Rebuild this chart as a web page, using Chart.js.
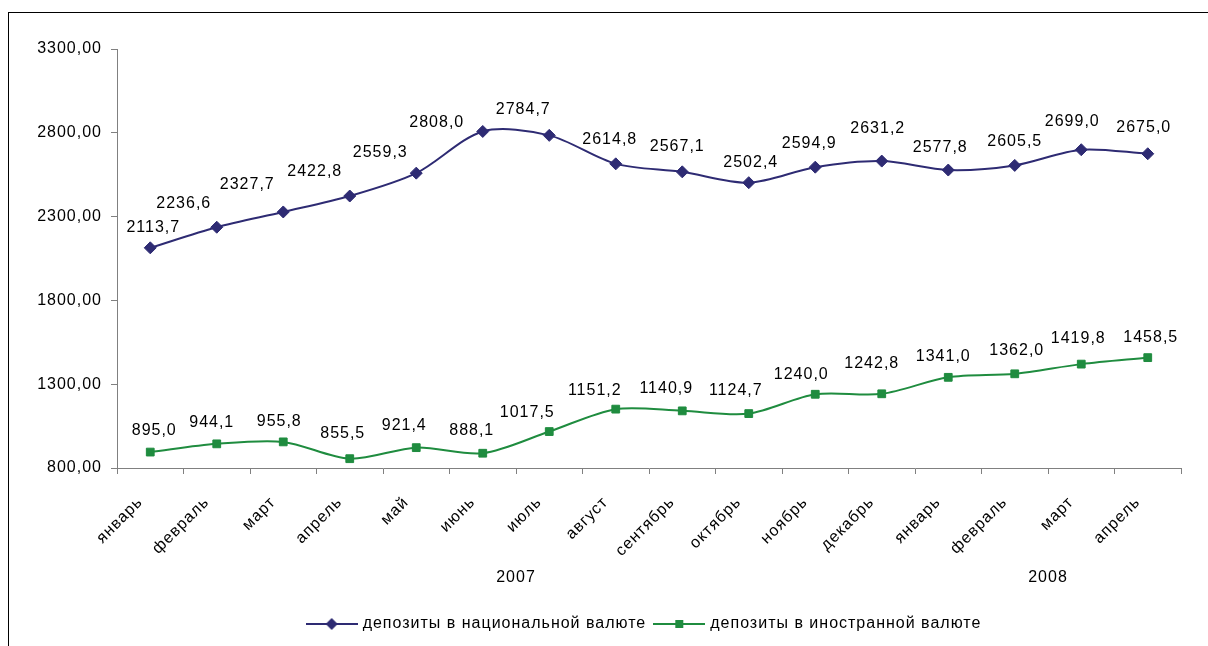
<!DOCTYPE html>
<html>
<head>
<meta charset="utf-8">
<script src="https://cdn.jsdelivr.net/npm/chart.js@4.4.1/dist/chart.umd.min.js"></script>
<style>
  html, body { margin: 0; padding: 0; background: #fff; overflow: hidden; }
  #frame { position: absolute; left: 8px; top: 12px; width: 1272px; height: 660px; border: 1px solid #000; }
  #chart { display: block; }
</style>
</head>
<body>
<div id="frame"><canvas id="chart" width="1272" height="660"></canvas></div>
<script>
// данные
const months = ["январь", "февраль", "март", "апрель", "май", "июнь", "июль", "август",
  "сентябрь", "октябрь", "ноябрь", "декабрь", "январь", "февраль", "март", "апрель"];
const years = ["2007", "2008"];
const yearFirst = [0, 12];
const yearLast = [11, 15];
const nationalValues = [2113.7, 2236.6, 2327.7, 2422.8, 2559.3, 2808.0, 2784.7, 2614.8,
  2567.1, 2502.4, 2594.9, 2631.2, 2577.8, 2605.5, 2699.0, 2675.0];
const foreignValues = [895.0, 944.1, 955.8, 855.5, 921.4, 888.1, 1017.5, 1151.2,
  1140.9, 1124.7, 1240.0, 1242.8, 1341.0, 1362.0, 1419.8, 1458.5];
const seriesNames = ["депозиты в национальной валюте", "депозиты в иностранной валюте"];

// сдвиги подписей значений (как в исходнике)
const nationalLabelDx = [3, -33, -36, -35, -36, -46, -26, -6, -5, 2, -6, -4, -8, 0, -9, -4];
const nationalLabelDy = [-20, -24, -27, -24, -21, -9, -26, -24, -25, -20, -24, -32, -22, -24, -28, -26];
const foreignLabelDx = [4, -5, -4, -7, -12, -11, -22, -21, -16, -13, -14, -10, -5, 2, -3, 3];
const foreignLabelDy = [-21, -21, -20, -25, -22, -23, -19, -19, -22, -23, -20, -30, -21, -23, -26, -20];

const navy = "#2E2B73";
const green = "#1F8C3F";
const axisColor = "#808080";
const fontFamily = "'Liberation Sans', Arial, sans-serif";

function fmt(v, d) {
  return v.toFixed(d).replace(".", ",");
}

function legendMark(color, shape) {
  const c = document.createElement("canvas");
  c.width = 52;
  c.height = 14;
  const g = c.getContext("2d");
  g.strokeStyle = color;
  g.lineWidth = 2;
  g.beginPath();
  g.moveTo(0, 7);
  g.lineTo(52, 7);
  g.stroke();
  g.fillStyle = color;
  g.beginPath();
  if (shape === "diamond") {
    g.moveTo(26, 1); g.lineTo(32, 7); g.lineTo(26, 13); g.lineTo(20, 7); g.closePath();
  } else {
    g.rect(22, 3, 8, 8);
  }
  g.fill();
  return c;
}
const legendMarks = [legendMark(navy, "diamond"), legendMark(green, "square")];

const spacing = {
  id: "spacing",
  beforeUpdate(chart) { chart.ctx.letterSpacing = "1px"; },
  beforeDraw(chart) { chart.ctx.letterSpacing = "1px"; }
};

const valueLabels = {
  id: "valueLabels",
  afterDatasetsDraw(chart) {
    const ctx = chart.ctx;
    const shifts = [[nationalLabelDx, nationalLabelDy], [foreignLabelDx, foreignLabelDy]];
    ctx.save();
    ctx.font = "16px " + fontFamily;
    ctx.fillStyle = "#000";
    ctx.textAlign = "center";
    ctx.textBaseline = "middle";
    chart.data.datasets.forEach((ds, i) => {
      chart.getDatasetMeta(i).data.forEach((pt, j) => {
        ctx.fillText(fmt(ds.data[j], 1), pt.x + shifts[i][0][j], pt.y + shifts[i][1][j]);
      });
    });
    ctx.restore();
  }
};

const yearLabels = {
  id: "yearLabels",
  afterDraw(chart) {
    const ctx = chart.ctx;
    const x = chart.scales.x;
    const half = (x.getPixelForValue(1) - x.getPixelForValue(0)) / 2;
    ctx.save();
    ctx.font = "16px " + fontFamily;
    ctx.fillStyle = "#000";
    ctx.textAlign = "center";
    ctx.textBaseline = "middle";
    years.forEach((y, i) => {
      const cx = (x.getPixelForValue(yearFirst[i]) - half + x.getPixelForValue(yearLast[i]) + half) / 2;
      ctx.fillText(y, cx, chart.chartArea.bottom + 110);
    });
    ctx.restore();
  }
};

new Chart(document.getElementById("chart"), {
  type: "line",
  data: {
    labels: months,
    datasets: [
      {
        label: seriesNames[0],
        data: nationalValues,
        borderColor: navy,
        backgroundColor: navy,
        borderWidth: 2,
        pointStyle: "rectRot",
        pointRadius: 6,
        pointBorderWidth: 1,
        tension: 0.3
      },
      {
        label: seriesNames[1],
        data: foreignValues,
        borderColor: green,
        backgroundColor: green,
        borderWidth: 2,
        pointStyle: "rect",
        pointRadius: 5.5,
        pointBorderWidth: 1,
        tension: 0.3
      }
    ]
  },
  options: {
    responsive: false,
    animation: false,
    layout: { padding: { top: 36, left: 0, right: 0, bottom: 31 } },
    font: { family: fontFamily, size: 16 },
    scales: {
      x: {
        offset: true,
        grid: { offset: true, drawOnChartArea: false, tickLength: 6, color: axisColor },
        border: { color: axisColor },
        ticks: {
          color: "#000",
          font: { family: fontFamily, size: 16 },
          minRotation: 45,
          maxRotation: 45,
          padding: 19,
          labelOffset: -10
        },
        afterFit(scale) { scale.height = 138; }
      },
      y: {
        min: 800,
        max: 3300,
        grid: { drawOnChartArea: false, tickLength: 6, color: axisColor },
        border: { color: axisColor },
        ticks: {
          stepSize: 500,
          color: "#000",
          font: { family: fontFamily, size: 16 },
          padding: 9,
          callback: (v) => fmt(v, 2)
        },
        afterFit(scale) { scale.width = 108; }
      },
      pad: {
        position: "right",
        display: true,
        grid: { display: false },
        border: { display: false },
        ticks: { display: false },
        afterFit(scale) { scale.width = 100; }
      }
    },
    plugins: {
      legend: {
        position: "bottom",
        labels: {
          usePointStyle: true,
          pointStyleWidth: 46,
          padding: 10,
          color: "#000",
          font: { family: fontFamily, size: 16 },
          generateLabels(chart) {
            const items = Chart.defaults.plugins.legend.labels.generateLabels(chart);
            items.forEach((it, i) => { it.pointStyle = legendMarks[i]; });
            return items;
          }
        }
      },
      tooltip: { enabled: false }
    }
  },
  plugins: [spacing, valueLabels, yearLabels]
});
</script>
</body>
</html>
